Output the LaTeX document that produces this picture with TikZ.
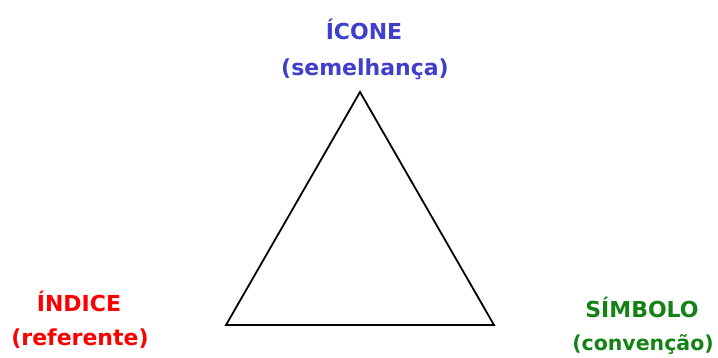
\documentclass[tikz,border=0pt]{standalone}
\usepackage{fontspec}
\setmainfont{DejaVu Sans}
\definecolor{iconblue}{RGB}{63,63,204}
\definecolor{indred}{RGB}{255,0,0}
\definecolor{simgreen}{RGB}{20,130,20}
\begin{document}
\begin{tikzpicture}[x=1pt,y=-1pt,
  lab/.style={font=\fontsize{22}{26}\selectfont\bfseries, anchor=base, inner sep=0pt}]
\useasboundingbox (0,0) rectangle (718,358);
\coordinate (top) at (360,92);
\coordinate (left) at (226,325);
\coordinate (right) at (494,325);
\draw[line width=1.8pt, line join=miter] (top) -- (left) -- (right) -- cycle;
\node[lab, text=iconblue] (icone) at (364,40) {ÍCONE};
\node[lab, text=iconblue] (semel) at (365,76) {(semelhança)};
\node[lab, text=indred] (indice) at (79,312) {ÍNDICE};
\node[lab, text=indred] (refer) at (80,345) {(referente)};
\node[lab, text=simgreen] (simbolo) at (642,318) {SÍMBOLO};
\node[lab, text=simgreen, font=\fontsize{20.5}{24}\selectfont\bfseries] (conv) at (643,350) {(convenção)};
\end{tikzpicture}
\end{document}
